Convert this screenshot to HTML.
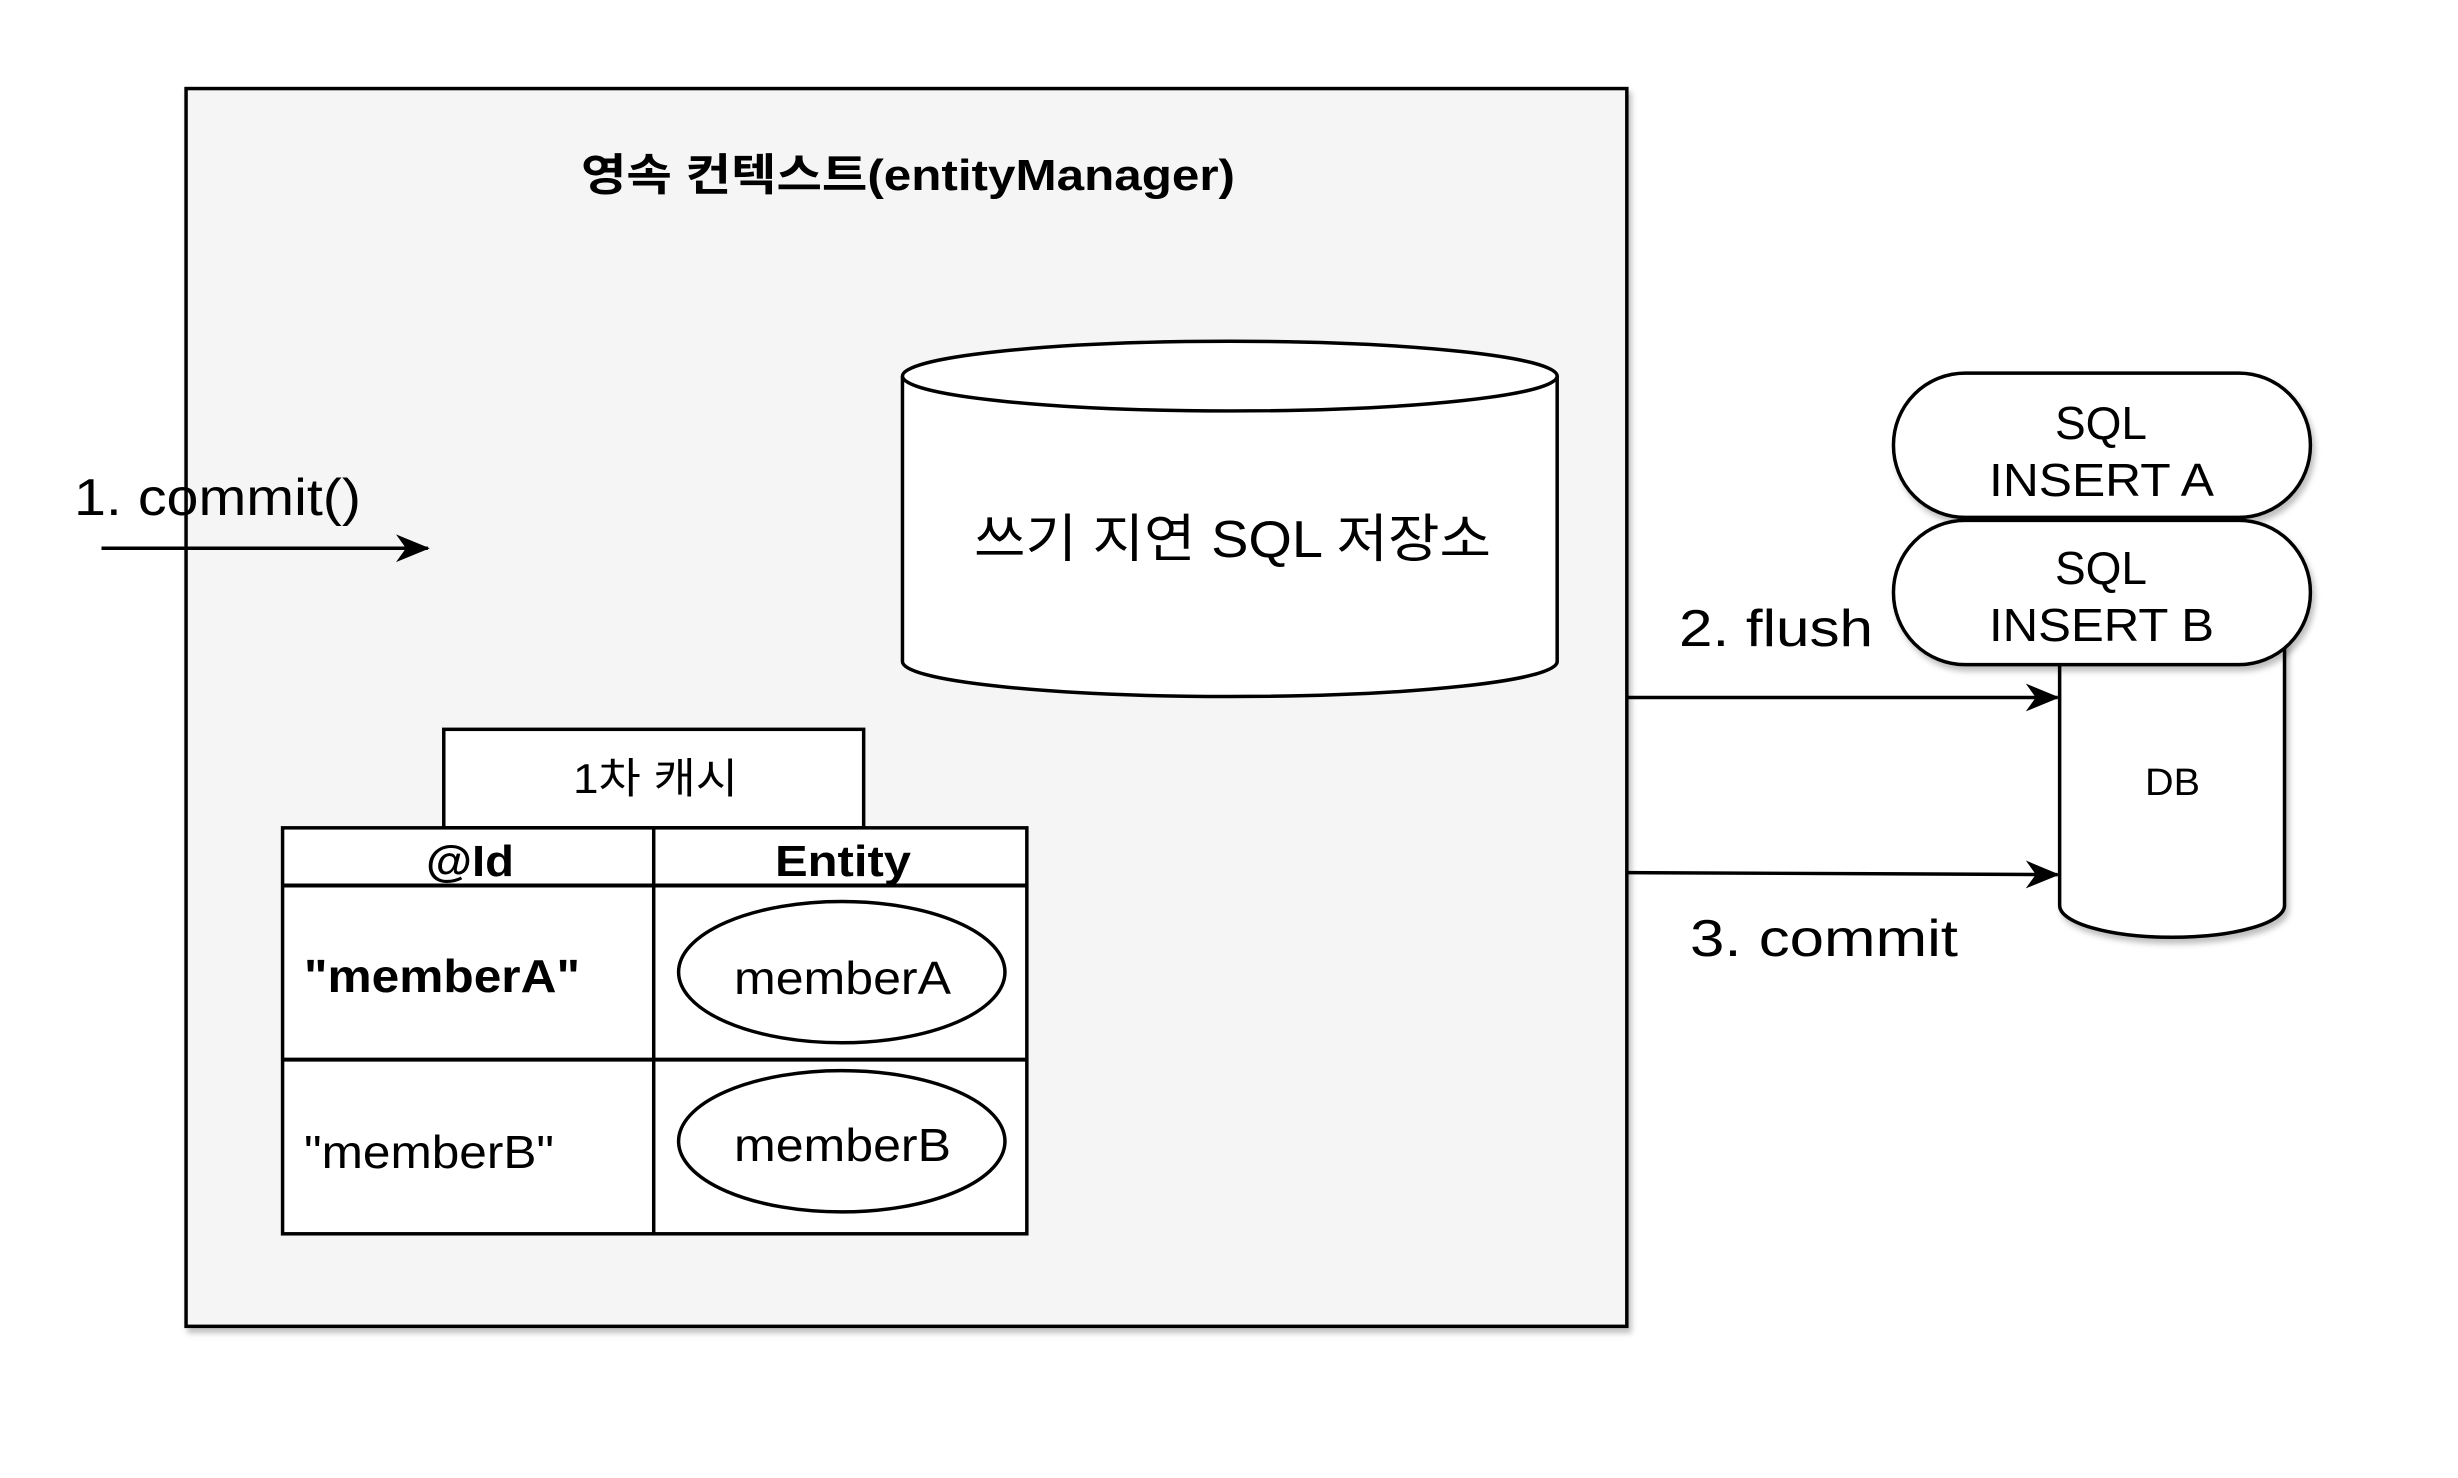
<!DOCTYPE html>
<html><head><meta charset="utf-8"><style>
html,body{margin:0;padding:0;background:#fff;width:2458px;height:1478px;overflow:hidden}
svg{display:block}
text{font-family:"Liberation Sans","Noto Sans CJK KR",sans-serif;fill:#000}
</style></head><body>
<svg width="2458" height="1478" viewBox="0 0 2458 1478" xmlns="http://www.w3.org/2000/svg">
<defs>
<filter id="sh" x="-5%" y="-5%" width="110%" height="115%"><feDropShadow dx="3" dy="5" stdDeviation="3" flood-color="#000" flood-opacity="0.25"/></filter>
<marker id="ar" markerWidth="40" markerHeight="40" refX="36" refY="20" orient="auto" markerUnits="userSpaceOnUse"><path d="M4,6 L38,20 L4,34 L14,20 Z" fill="#000"/></marker>
</defs>
<g transform="scale(0.995)">
<rect x="187" y="89" width="1448" height="1244" fill="#f5f5f5" stroke="#000" stroke-width="3.5" filter="url(#sh)"/>
<path d="M907,378 L907,665 A329,35 0 0 0 1565,665 L1565,378" fill="#fff" stroke="#000" stroke-width="3.5"/>
<ellipse cx="1236" cy="378" rx="329" ry="35" fill="#fff" stroke="#000" stroke-width="3.5"/>
<line x1="102" y1="551" x2="430" y2="551" stroke="#000" stroke-width="3.5" marker-end="url(#ar)"/>
<rect x="446" y="733" width="422" height="99" fill="#fff" stroke="#000" stroke-width="3.5"/>
<rect x="284" y="832" width="748" height="408" fill="#fff" stroke="#000" stroke-width="3.5"/>
<line x1="657" y1="832" x2="657" y2="1240" stroke="#000" stroke-width="3.5"/>
<line x1="284" y1="890" x2="1032" y2="890" stroke="#000" stroke-width="4"/>
<line x1="284" y1="1065" x2="1032" y2="1065" stroke="#000" stroke-width="4"/>
<ellipse cx="846" cy="977" rx="164" ry="71" fill="#fff" stroke="#000" stroke-width="3.5"/>
<ellipse cx="846" cy="1147" rx="164" ry="71" fill="#fff" stroke="#000" stroke-width="3.5"/>
<path d="M2070,640 L2070,910 A113,32 0 0 0 2296,910 L2296,640 Z" fill="#fff" stroke="#000" stroke-width="3.5" filter="url(#sh)"/>
<rect x="1903" y="375" width="419" height="145" rx="72" ry="72" fill="#fff" stroke="#000" stroke-width="3.5" filter="url(#sh)"/>
<rect x="1903" y="523" width="419" height="145" rx="72" ry="72" fill="#fff" stroke="#000" stroke-width="3.5" filter="url(#sh)"/>
<line x1="1635" y1="701" x2="2068" y2="701" stroke="#000" stroke-width="3.5" marker-end="url(#ar)"/>
<line x1="1635" y1="877" x2="2068" y2="879" stroke="#000" stroke-width="3.5" marker-end="url(#ar)"/>
</g>
<text x="581" y="190" font-size="44" font-weight="bold" textLength="654" lengthAdjust="spacingAndGlyphs">영속 컨텍스트(entityManager)</text>
<text x="974" y="557" font-size="52" textLength="517" lengthAdjust="spacingAndGlyphs">쓰기 지연 SQL 저장소</text>
<text x="74" y="515" font-size="52" textLength="287" lengthAdjust="spacingAndGlyphs">1. commit()</text>
<text x="573" y="793" font-size="42" textLength="165" lengthAdjust="spacingAndGlyphs">1차 캐시</text>
<text x="426" y="876" font-size="44" font-weight="bold" textLength="88" lengthAdjust="spacingAndGlyphs">@Id</text>
<text x="775" y="876" font-size="44" font-weight="bold" textLength="136" lengthAdjust="spacingAndGlyphs">Entity</text>
<text x="304" y="992" font-size="46" font-weight="bold" textLength="276" lengthAdjust="spacingAndGlyphs">"memberA"</text>
<text x="304" y="1168" font-size="46" textLength="250" lengthAdjust="spacingAndGlyphs">"memberB"</text>
<text x="734" y="994" font-size="46" textLength="217" lengthAdjust="spacingAndGlyphs">memberA</text>
<text x="734" y="1161" font-size="46" textLength="217" lengthAdjust="spacingAndGlyphs">memberB</text>
<text x="2101" y="439" font-size="46" text-anchor="middle">SQL</text>
<text x="1989" y="496" font-size="46" textLength="225" lengthAdjust="spacingAndGlyphs">INSERT A</text>
<text x="2101" y="584" font-size="46" text-anchor="middle">SQL</text>
<text x="1989" y="641" font-size="46" textLength="225" lengthAdjust="spacingAndGlyphs">INSERT B</text>
<text x="2145" y="795" font-size="38" textLength="55" lengthAdjust="spacingAndGlyphs">DB</text>
<text x="1679" y="646" font-size="52" textLength="194" lengthAdjust="spacingAndGlyphs">2. flush</text>
<text x="1690" y="956" font-size="52" textLength="268" lengthAdjust="spacingAndGlyphs">3. commit</text>
</svg>
</body></html>
